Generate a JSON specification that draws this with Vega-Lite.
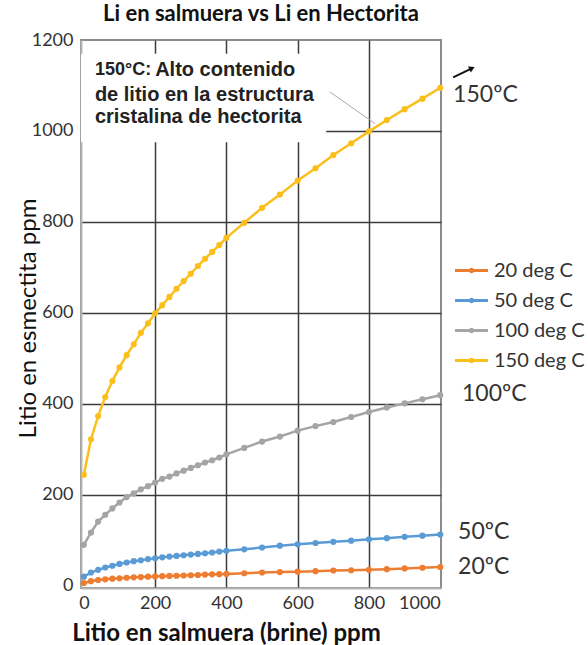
{
  "$schema": "https://vega.github.io/schema/vega-lite/v6.json",
  "width": 360,
  "height": 548,
  "autosize": "none",
  "padding": {"left": 81, "top": 40, "right": 147, "bottom": 57},
  "background": "white",
  "config": {
    "view": {"stroke": "#8c8c8c", "strokeWidth": 2},
    "font": "Lato"
  },
  "title": {
    "text": "Li en salmuera vs Li en Hectorita",
    "font": "Lato",
    "fontSize": 22,
    "fontWeight": "bold",
    "color": "#111",
    "anchor": "middle",
    "offset": 5
  },
  "datasets": {
    "series": [
      {"t": "20 deg C", "x": 0, "y": 6}, {"t": "20 deg C", "x": 20, "y": 10}, {"t": "20 deg C", "x": 40, "y": 12.5}, {"t": "20 deg C", "x": 60, "y": 14}, {"t": "20 deg C", "x": 80, "y": 15.5}, {"t": "20 deg C", "x": 100, "y": 16.5}, {"t": "20 deg C", "x": 120, "y": 17.5}, {"t": "20 deg C", "x": 140, "y": 18.5}, {"t": "20 deg C", "x": 160, "y": 19}, {"t": "20 deg C", "x": 180, "y": 20}, {"t": "20 deg C", "x": 200, "y": 20.5}, {"t": "20 deg C", "x": 220, "y": 21}, {"t": "20 deg C", "x": 240, "y": 21.5}, {"t": "20 deg C", "x": 260, "y": 22}, {"t": "20 deg C", "x": 280, "y": 22.5}, {"t": "20 deg C", "x": 300, "y": 23}, {"t": "20 deg C", "x": 320, "y": 23.5}, {"t": "20 deg C", "x": 340, "y": 24.5}, {"t": "20 deg C", "x": 360, "y": 25}, {"t": "20 deg C", "x": 380, "y": 25.5}, {"t": "20 deg C", "x": 400, "y": 26}, {"t": "20 deg C", "x": 450, "y": 27.5}, {"t": "20 deg C", "x": 500, "y": 29}, {"t": "20 deg C", "x": 550, "y": 30}, {"t": "20 deg C", "x": 600, "y": 31}, {"t": "20 deg C", "x": 650, "y": 32}, {"t": "20 deg C", "x": 700, "y": 33.5}, {"t": "20 deg C", "x": 750, "y": 34}, {"t": "20 deg C", "x": 800, "y": 35}, {"t": "20 deg C", "x": 850, "y": 36.5}, {"t": "20 deg C", "x": 900, "y": 38}, {"t": "20 deg C", "x": 950, "y": 39.5}, {"t": "20 deg C", "x": 1000, "y": 41},
      {"t": "50 deg C", "x": 0, "y": 20}, {"t": "50 deg C", "x": 20, "y": 29}, {"t": "50 deg C", "x": 40, "y": 35}, {"t": "50 deg C", "x": 60, "y": 40}, {"t": "50 deg C", "x": 80, "y": 44}, {"t": "50 deg C", "x": 100, "y": 48}, {"t": "50 deg C", "x": 120, "y": 51}, {"t": "50 deg C", "x": 140, "y": 54}, {"t": "50 deg C", "x": 160, "y": 56}, {"t": "50 deg C", "x": 180, "y": 58.5}, {"t": "50 deg C", "x": 200, "y": 60.5}, {"t": "50 deg C", "x": 220, "y": 62.5}, {"t": "50 deg C", "x": 240, "y": 64}, {"t": "50 deg C", "x": 260, "y": 65.5}, {"t": "50 deg C", "x": 280, "y": 67}, {"t": "50 deg C", "x": 300, "y": 68.5}, {"t": "50 deg C", "x": 320, "y": 70}, {"t": "50 deg C", "x": 340, "y": 71.5}, {"t": "50 deg C", "x": 360, "y": 73}, {"t": "50 deg C", "x": 380, "y": 75}, {"t": "50 deg C", "x": 400, "y": 77}, {"t": "50 deg C", "x": 450, "y": 80}, {"t": "50 deg C", "x": 500, "y": 84}, {"t": "50 deg C", "x": 550, "y": 88}, {"t": "50 deg C", "x": 600, "y": 91}, {"t": "50 deg C", "x": 650, "y": 94}, {"t": "50 deg C", "x": 700, "y": 96.5}, {"t": "50 deg C", "x": 750, "y": 99}, {"t": "50 deg C", "x": 800, "y": 102}, {"t": "50 deg C", "x": 850, "y": 104.5}, {"t": "50 deg C", "x": 900, "y": 107.5}, {"t": "50 deg C", "x": 950, "y": 110}, {"t": "50 deg C", "x": 1000, "y": 112.5},
      {"t": "100 deg C", "x": 0, "y": 90}, {"t": "100 deg C", "x": 20, "y": 117}, {"t": "100 deg C", "x": 40, "y": 141}, {"t": "100 deg C", "x": 60, "y": 156}, {"t": "100 deg C", "x": 80, "y": 170}, {"t": "100 deg C", "x": 100, "y": 183}, {"t": "100 deg C", "x": 120, "y": 195}, {"t": "100 deg C", "x": 140, "y": 203}, {"t": "100 deg C", "x": 160, "y": 212}, {"t": "100 deg C", "x": 180, "y": 219}, {"t": "100 deg C", "x": 200, "y": 227}, {"t": "100 deg C", "x": 220, "y": 235}, {"t": "100 deg C", "x": 240, "y": 240}, {"t": "100 deg C", "x": 260, "y": 247}, {"t": "100 deg C", "x": 280, "y": 253}, {"t": "100 deg C", "x": 300, "y": 259}, {"t": "100 deg C", "x": 320, "y": 265}, {"t": "100 deg C", "x": 340, "y": 271}, {"t": "100 deg C", "x": 360, "y": 276}, {"t": "100 deg C", "x": 380, "y": 282}, {"t": "100 deg C", "x": 400, "y": 289}, {"t": "100 deg C", "x": 450, "y": 303}, {"t": "100 deg C", "x": 500, "y": 317}, {"t": "100 deg C", "x": 550, "y": 328}, {"t": "100 deg C", "x": 600, "y": 341}, {"t": "100 deg C", "x": 650, "y": 351}, {"t": "100 deg C", "x": 700, "y": 360}, {"t": "100 deg C", "x": 750, "y": 371}, {"t": "100 deg C", "x": 800, "y": 382}, {"t": "100 deg C", "x": 850, "y": 392}, {"t": "100 deg C", "x": 900, "y": 401}, {"t": "100 deg C", "x": 950, "y": 410}, {"t": "100 deg C", "x": 1000, "y": 419},
      {"t": "150 deg C", "x": 0, "y": 244}, {"t": "150 deg C", "x": 20, "y": 322}, {"t": "150 deg C", "x": 40, "y": 373}, {"t": "150 deg C", "x": 60, "y": 415}, {"t": "150 deg C", "x": 80, "y": 450}, {"t": "150 deg C", "x": 100, "y": 480}, {"t": "150 deg C", "x": 120, "y": 507}, {"t": "150 deg C", "x": 140, "y": 531}, {"t": "150 deg C", "x": 160, "y": 556}, {"t": "150 deg C", "x": 180, "y": 577}, {"t": "150 deg C", "x": 200, "y": 599}, {"t": "150 deg C", "x": 220, "y": 617}, {"t": "150 deg C", "x": 240, "y": 635}, {"t": "150 deg C", "x": 260, "y": 653}, {"t": "150 deg C", "x": 280, "y": 670}, {"t": "150 deg C", "x": 300, "y": 686}, {"t": "150 deg C", "x": 320, "y": 703}, {"t": "150 deg C", "x": 340, "y": 719}, {"t": "150 deg C", "x": 360, "y": 734}, {"t": "150 deg C", "x": 380, "y": 749}, {"t": "150 deg C", "x": 400, "y": 765}, {"t": "150 deg C", "x": 450, "y": 798}, {"t": "150 deg C", "x": 500, "y": 831}, {"t": "150 deg C", "x": 550, "y": 860}, {"t": "150 deg C", "x": 600, "y": 891}, {"t": "150 deg C", "x": 650, "y": 918}, {"t": "150 deg C", "x": 700, "y": 947}, {"t": "150 deg C", "x": 750, "y": 973}, {"t": "150 deg C", "x": 800, "y": 999}, {"t": "150 deg C", "x": 850, "y": 1024}, {"t": "150 deg C", "x": 900, "y": 1048}, {"t": "150 deg C", "x": 950, "y": 1071}, {"t": "150 deg C", "x": 1000, "y": 1095}
    ],
    "one": [{"k": 1}]
  },
  "layer": [
    {
      "data": {"name": "one"},
      "mark": {"type": "rect", "color": "white"},
      "encoding": {
        "x": {"datum": -8, "type": "quantitative"},
        "x2": {"datum": 680},
        "y": {"datum": 975, "type": "quantitative"},
        "y2": {"datum": 1170}
      }
    },
    {
      "data": {"name": "series"},
      "mark": {"type": "line", "strokeWidth": 2.5, "point": {"filled": true, "size": 38}},
      "encoding": {
        "x": {
          "field": "x",
          "type": "quantitative",
          "scale": {"domain": [-8, 1002], "nice": false, "zero": false},
          "axis": {
            "values": [0, 200, 400, 600, 800, 1000],
            "format": "d",
            "grid": true,
            "gridColor": "#3c3c3c",
            "gridWidth": 1.5,
            "gridOpacity": {"condition": {"test": "datum.value == 0 || datum.value == 1000", "value": 0}, "value": 1},
            "domainColor": "#b5b5b5",
            "domainWidth": 2,
            "ticks": false,
            "labelFont": "Lato",
            "labelFontSize": 18,
            "labelColor": "#333",
            "labelPadding": 6,
            "title": "Litio en salmuera (brine) ppm",
            "titleFont": "Lato",
            "titleFontSize": 24,
            "titleFontWeight": "bold",
            "titleColor": "#111",
            "titleAnchor": "start",
            "titleAlign": "center",
            "titleBaseline": "middle",
            "titleX": 145,
            "titleY": 45
          }
        },
        "y": {
          "field": "y",
          "type": "quantitative",
          "scale": {"domain": [-5, 1200], "nice": false, "zero": false},
          "axis": {
            "values": [0, 200, 400, 600, 800, 1000, 1200],
            "format": "d",
            "grid": true,
            "gridColor": "#3c3c3c",
            "gridWidth": 1.5,
            "gridOpacity": {"condition": {"test": "datum.value == 0 || datum.value == 1200", "value": 0}, "value": 1},
            "domainColor": "#b5b5b5",
            "domainWidth": 2,
            "ticks": false,
            "labelFont": "Lato",
            "labelFontSize": 18,
            "labelColor": "#333",
            "labelPadding": 8,
            "title": "Litio en esmectita ppm",
            "titleFont": "Lato",
            "titleFontSize": 24,
            "titleFontWeight": "normal",
            "titleColor": "#111",
            "titleAngle": 270,
            "titleAlign": "center",
            "titleBaseline": "middle",
            "titleX": -53,
            "titleY": 278
          }
        },
        "color": {
          "field": "t",
          "type": "nominal",
          "scale": {
            "domain": ["20 deg C", "50 deg C", "100 deg C", "150 deg C"],
            "range": ["#ED7D31", "#5B9BD5", "#A5A5A5", "#FBBF1C"]
          },
          "legend": {
            "orient": "none",
            "legendX": 374,
            "legendY": 214,
            "title": null,
            "padding": 0,
            "symbolType": "M-1.1,0H1.1M-0.08,0a0.08,0.08 0 1,0 0.16,0a0.08,0.08 0 1,0 -0.16,0",
            "symbolSize": 900,
            "symbolStrokeWidth": 3,
            "labelFont": "Lato",
            "labelFontSize": 20,
            "labelColor": "#333",
            "labelOffset": 6,
            "rowPadding": 3
          }
        }
      }
    },
    {
      "data": {"name": "one"},
      "mark": {"type": "rule", "color": "#aaaaaa", "strokeWidth": 1},
      "encoding": {
        "x": {"datum": 690, "type": "quantitative"},
        "x2": {"datum": 817},
        "y": {"datum": 1086, "type": "quantitative"},
        "y2": {"datum": 1016}
      }
    },
    {
      "data": {"name": "one"},
      "mark": {"type": "text", "text": "150°C:", "font": "Liberation Sans", "fontWeight": "bold", "fontSize": 18, "align": "left", "baseline": "middle", "color": "#222"},
      "encoding": {
        "x": {"datum": 31, "type": "quantitative"},
        "y": {"datum": 1134, "type": "quantitative"}
      }
    },
    {
      "data": {"name": "one"},
      "mark": {"type": "text", "text": "Alto contenido", "font": "Liberation Sans", "fontWeight": "bold", "fontSize": 20, "align": "left", "baseline": "middle", "color": "#222"},
      "encoding": {
        "x": {"datum": 200, "type": "quantitative"},
        "y": {"datum": 1134, "type": "quantitative"}
      }
    },
    {
      "data": {"name": "one"},
      "mark": {"type": "text", "text": "de litio en la estructura", "font": "Liberation Sans", "fontWeight": "bold", "fontSize": 20, "align": "left", "baseline": "middle", "color": "#222"},
      "encoding": {
        "x": {"datum": 31, "type": "quantitative"},
        "y": {"datum": 1079, "type": "quantitative"}
      }
    },
    {
      "data": {"name": "one"},
      "mark": {"type": "text", "text": "cristalina de hectorita", "font": "Liberation Sans", "fontWeight": "bold", "fontSize": 20, "align": "left", "baseline": "middle", "color": "#222"},
      "encoding": {
        "x": {"datum": 31, "type": "quantitative"},
        "y": {"datum": 1031, "type": "quantitative"}
      }
    },
    {
      "data": {"name": "one"},
      "mark": {"type": "text", "text": "150ºC", "font": "Lato", "fontSize": 23, "align": "left", "baseline": "middle", "color": "#333"},
      "encoding": {
        "x": {"datum": 1036, "type": "quantitative"},
        "y": {"datum": 1078, "type": "quantitative"}
      }
    },
    {
      "data": {"name": "one"},
      "mark": {"type": "text", "text": "100ºC", "font": "Lato", "fontSize": 23, "align": "left", "baseline": "middle", "color": "#333"},
      "encoding": {
        "x": {"datum": 1061, "type": "quantitative"},
        "y": {"datum": 421, "type": "quantitative"}
      }
    },
    {
      "data": {"name": "one"},
      "mark": {"type": "text", "text": "50ºC", "font": "Lato", "fontSize": 23, "align": "left", "baseline": "middle", "color": "#333"},
      "encoding": {
        "x": {"datum": 1050, "type": "quantitative"},
        "y": {"datum": 119, "type": "quantitative"}
      }
    },
    {
      "data": {"name": "one"},
      "mark": {"type": "text", "text": "20ºC", "font": "Lato", "fontSize": 23, "align": "left", "baseline": "middle", "color": "#333"},
      "encoding": {
        "x": {"datum": 1050, "type": "quantitative"},
        "y": {"datum": 42, "type": "quantitative"}
      }
    },
    {
      "data": {"name": "one"},
      "mark": {"type": "rule", "color": "#111", "strokeWidth": 2},
      "encoding": {
        "x": {"datum": 1036, "type": "quantitative"},
        "x2": {"datum": 1084},
        "y": {"datum": 1118, "type": "quantitative"},
        "y2": {"datum": 1136}
      }
    },
    {
      "data": {"name": "one"},
      "mark": {"type": "point", "shape": "triangle-up", "filled": true, "color": "#111", "size": 45, "angle": 64, "opacity": 1},
      "encoding": {
        "x": {"datum": 1089, "type": "quantitative"},
        "y": {"datum": 1138, "type": "quantitative"}
      }
    }
  ]
}
